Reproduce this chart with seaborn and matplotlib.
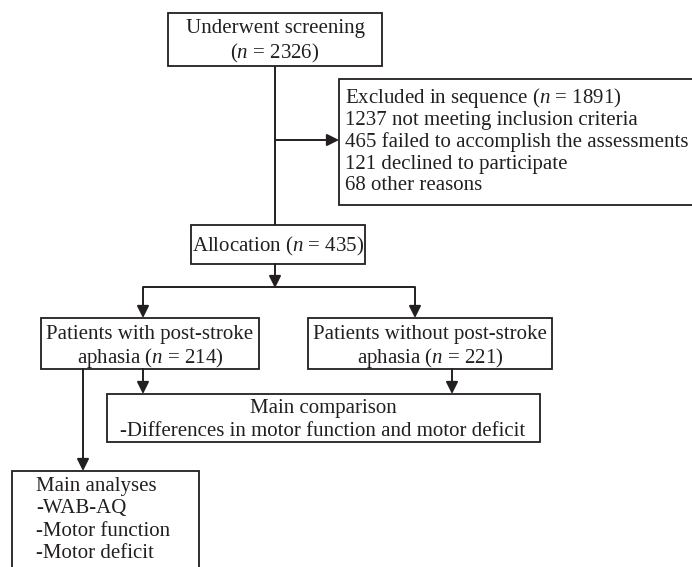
import matplotlib
matplotlib.use("Agg")
import matplotlib.pyplot as plt
import seaborn as sns
from matplotlib.patches import Rectangle

# Datos del diagrama de flujo
n_screened = 2326
n_excluded = 1891
excluded_counts = [1237, 465, 121, 68]
excluded_reasons = ["not meeting inclusion criteria",
                    "failed to accomplish the assessments",
                    "declined to participate",
                    "other reasons"]
n_allocation = 435
n_aphasia = 214
n_no_aphasia = 221
analyses_items = ["WAB-AQ", "Motor function", "Motor deficit"]
comparison_items = ["Differences in motor function and motor deficit"]

sns.set_style("white")
plt.rcParams['font.family'] = ['Liberation Serif', 'DejaVu Serif']
plt.rcParams['mathtext.fontset'] = 'custom'
plt.rcParams['mathtext.rm'] = 'Liberation Serif'
plt.rcParams['mathtext.it'] = 'Liberation Serif:italic'

INK = '#231f20'
FS = 15

fig = plt.figure(figsize=(6.92, 5.67), dpi=100)
ax = fig.add_axes([0, 0, 1, 1])
ax.set_xlim(0, 692)
ax.set_ylim(567, 0)
ax.axis('off')


def caja(x0, y0, x1, y1):
    ax.add_patch(Rectangle((x0, y0), x1 - x0, y1 - y0, fill=True, facecolor='white',
                           edgecolor=INK, linewidth=1.3, zorder=2))


def flecha(x0, y0, x1, y1):
    ax.annotate('', xy=(x1, y1), xytext=(x0, y0),
                arrowprops=dict(arrowstyle='-|>', color=INK, lw=1.4,
                                mutation_scale=18, shrinkA=0, shrinkB=0), zorder=3)


def linea(xs, ys):
    ax.plot(xs, ys, color=INK, lw=1.4, solid_capstyle='butt', zorder=1)


def texto(x, y, s, ha='center'):
    ax.text(x, y + 2, s, ha=ha, va='center', fontsize=FS, color=INK, zorder=4)


# Cribado
caja(168, 13, 382, 66)
texto(275, 27, "Underwent screening")
texto(275, 51, f"($n$ = {n_screened})")

# Excluidos
caja(339, 79, 700, 205)
texto(345, 96, f"Excluded in sequence ($n$ = {n_excluded})", ha='left')
for i, (c, r) in enumerate(zip(excluded_counts, excluded_reasons)):
    texto(345, 118 + 22 * i, f"{c} {r}", ha='left')

linea([275, 275], [66, 225])
flecha(275, 140, 339, 140)

# Asignación
caja(191, 225, 365, 264)
texto(278, 244, f"Allocation ($n$ = {n_allocation})")
flecha(275, 264, 275, 288)
linea([143, 415], [287, 287])
flecha(143, 287, 143, 318)
flecha(415, 287, 415, 318)

# Grupos
caja(41, 318, 259, 369)
texto(150, 332, "Patients with post-stroke")
texto(150, 356, f"aphasia ($n$ = {n_aphasia})")

caja(308, 318, 552, 369)
texto(430, 332, "Patients without post-stroke")
texto(430, 356, f"aphasia ($n$ = {n_no_aphasia})")

# Comparación principal
flecha(143, 369, 143, 394)
flecha(452, 369, 452, 394)
caja(107, 394, 540, 442)
texto(323, 406, "Main comparison")
texto(323, 429, "-" + comparison_items[0])

# Análisis principal
flecha(83, 369, 83, 471)
caja(12, 471, 199, 600)
texto(36, 485, "Main analyses", ha='left')
for i, item in enumerate(analyses_items):
    texto(36, 507 + 22 * i, "-" + item, ha='left')

fig.savefig("out.png", dpi=100)
